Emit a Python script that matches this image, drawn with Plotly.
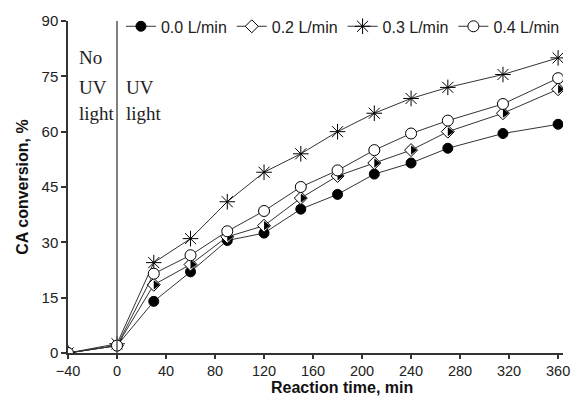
import plotly.graph_objects as go

time_min = [-40, 0, 30, 60, 90, 120, 150, 180, 210, 240, 270, 315, 360]
flow_labels = ["0.0 L/min", "0.2 L/min", "0.3 L/min", "0.4 L/min"]
conv_00 = [0, 2, 14, 22, 30.5, 32.5, 39, 43, 48.5, 51.5, 55.5, 59.5, 62]
conv_02 = [0, 2, 18.5, 24, 31.5, 34.5, 42, 48, 51.5, 55, 60, 65, 71.5]
conv_03 = [0, 2.5, 24.5, 31, 41, 49, 54, 60, 65, 69, 72, 75.5, 80]
conv_04 = [0, 2, 21.5, 26.5, 33, 38.5, 45, 49.5, 55, 59.5, 63, 67.5, 74.5]
x_ticks = list(range(-40, 361, 40))
y_ticks = list(range(0, 91, 15))

LC = "#333333"
SANS = "Arial, Liberation Sans, sans-serif"
fig = go.Figure()

fig.add_trace(go.Scatter(x=time_min, y=conv_00, name=flow_labels[0], mode="lines+markers",
                         line=dict(color=LC, width=1),
                         marker=dict(symbol="circle", size=10, color="black", line=dict(color="black", width=1))))
fig.add_trace(go.Scatter(x=time_min, y=conv_02, name=flow_labels[1], mode="lines+markers",
                         line=dict(color=LC, width=1),
                         marker=dict(symbol="diamond", size=10, color="white", line=dict(color="black", width=1))))
# right half fill of the diamond
fig.add_trace(go.Scatter(x=time_min, y=conv_02, name=flow_labels[1], mode="markers", showlegend=False,
                         marker=dict(symbol="triangle-down", angle=-90, standoff=2, size=8, color="black",
                                     line=dict(width=0))))
fig.add_trace(go.Scatter(x=time_min, y=conv_03, name=flow_labels[2], mode="lines+markers",
                         line=dict(color=LC, width=1),
                         marker=dict(symbol="asterisk-open", size=13, color="black", line=dict(color="#222", width=1))))
fig.add_trace(go.Scatter(x=time_min, y=conv_04, name=flow_labels[3], mode="lines+markers",
                         line=dict(color=LC, width=1),
                         marker=dict(symbol="circle", size=11, color="white", line=dict(color="black", width=1))))

fig.add_shape(type="line", xref="x", yref="y", x0=0, x1=0, y0=0, y1=90,
              line=dict(color="#555555", width=1.5))

serif = dict(family="Liberation Serif, Times New Roman, serif", size=19, color="#222")
for txt, xx, yy in [("No", -33, 80.2), ("UV", -33, 72.1), ("light", -33, 64.8),
                    ("UV", 6, 72.1), ("light", 6, 64.8)]:
    fig.add_annotation(x=xx, y=yy, xref="x", yref="y", text=txt, showarrow=False,
                       xanchor="left", yanchor="middle", font=serif)

# x-axis title (placed right of centre as in the source)
fig.add_annotation(x=0.554, y=-0.1355, xref="paper", yref="paper", text="<b>Reaction time, min</b>",
                   showarrow=False, xanchor="center", yanchor="bottom",
                   font=dict(family=SANS, size=16, color="#111"))

axis_font = dict(family=SANS, size=14.5, color="#222")
fig.update_xaxes(range=[-40, 364], tickvals=x_ticks, showgrid=False, zeroline=False, automargin=False,
                 showline=True, linecolor="#333", linewidth=1.5, ticks="outside", ticklen=4,
                 tickcolor="#333", tickwidth=1.5, tickfont=axis_font)
fig.update_yaxes(range=[0, 90], tickvals=y_ticks, showgrid=False, zeroline=False, automargin=False,
                 showline=True, linecolor="#333", linewidth=1.5, ticks="outside", ticklen=5,
                 tickcolor="#333", tickwidth=1.5, tickfont=dict(family=SANS, size=15, color="#222"),
                 title=dict(text="<b>CA conversion, %</b>", font=dict(family=SANS, size=16, color="#111"), standoff=9))

fig.update_layout(width=574, height=398, margin=dict(l=68, r=11, t=21, b=45, autoexpand=False),
                  plot_bgcolor="white", paper_bgcolor="white",
                  legend=dict(orientation="h", x=0.107, y=1.035, xanchor="left", yanchor="top",
                              bgcolor="rgba(0,0,0,0)", font=dict(family=SANS, size=16, color="#222"),
                              itemwidth=30, tracegroupgap=0))

fig.write_html("out.html")
